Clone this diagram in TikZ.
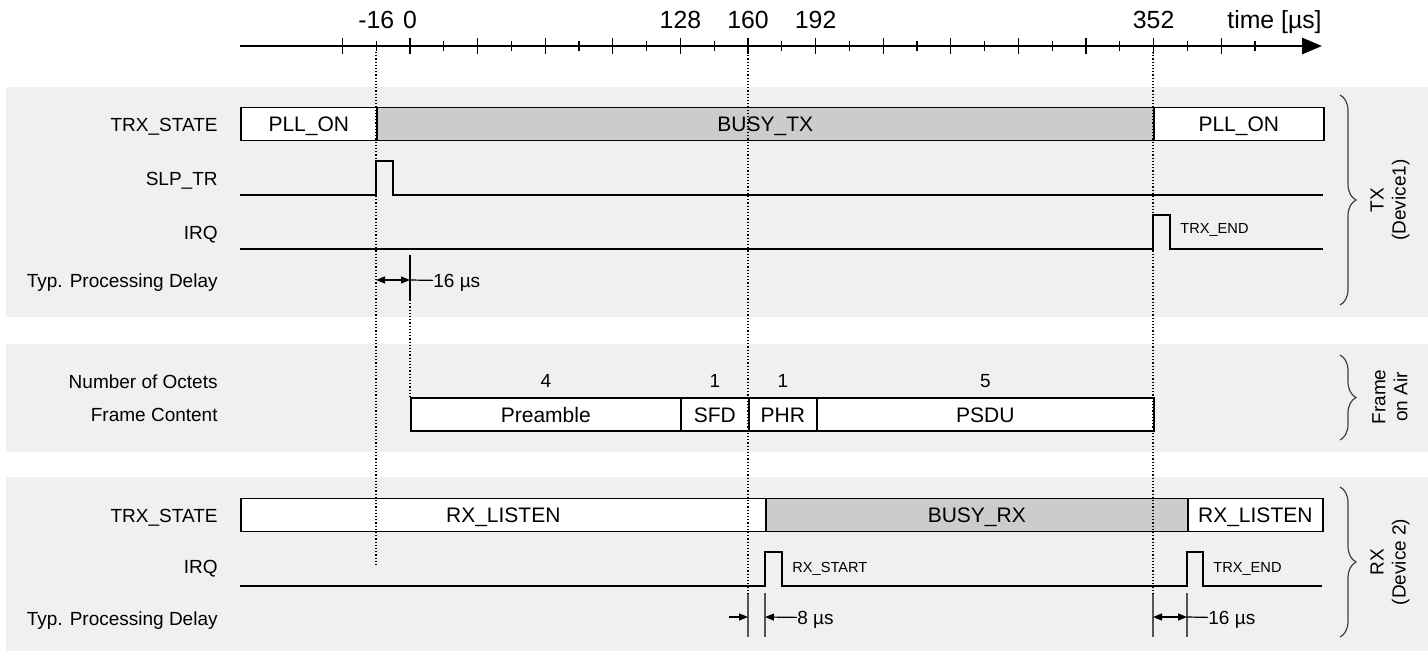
\documentclass[tikz,border=0pt]{standalone}
\usepackage{fontspec}
\setmainfont{Liberation Sans}
\usetikzlibrary{arrows.meta,positioning,calc,decorations.pathreplacing}

\definecolor{panelgray}{HTML}{F0F0F0}
\definecolor{busygray}{HTML}{CCCCCC}
\definecolor{guidegray}{HTML}{555555}

\newcommand{\fsaxis}{\fontsize{12.4}{14}\selectfont}
\newcommand{\fslabel}{\fontsize{9.5}{11}\selectfont}
\newcommand{\fsbox}{\fontsize{10.5}{12}\selectfont}
\newcommand{\fstag}{\fontsize{7.3}{8.5}\selectfont}

\tikzset{
  %% Background panels
  panel/.style={fill=panelgray, draw=none},
  %% Row labels on the left
  rowlabel/.style={anchor=base east, inner sep=0pt, font=\fslabel},
  %% State / frame boxes
  statebox/.style={
    rectangle, draw=black, line width=0.8pt, fill=white,
    anchor=west, minimum height=16.5pt, inner sep=0pt,
    text height=7.5pt, text depth=0pt, font=\fsbox},
  busybox/.style={statebox, fill=busygray},
  octetlabel/.style={anchor=base, inner sep=0pt, font=\fslabel},
  %% Signals
  signal/.style={line width=1pt, black},
  pulsetag/.style={anchor=base west, inner sep=0pt, font=\fstag},
  %% Time axis
  timeaxis/.style={line width=1.4pt, -{Triangle[length=10pt,width=8pt]}},
  tickmark/.style={line width=0.6pt},
  ticklabel/.style={anchor=base, inner sep=0pt, font=\fsaxis},
  %% Markers and delays
  tmarker/.style={densely dotted, line width=0.6pt},
  guide/.style={line width=0.6pt, guidegray},
  leader/.style={line width=0.6pt, black},
  dimarrow/.style={line width=0.6pt,
    {Triangle[length=4.5pt,width=3.5pt]}-{Triangle[length=4.5pt,width=3.5pt]}},
  dimin/.style={line width=0.6pt, -{Triangle[length=4.5pt,width=3.5pt]}},
  delaytext/.style={anchor=base west, inner sep=0pt, text depth=0pt, font=\fslabel},
  %% Side braces
  sidebrace/.style={decorate, decoration={brace, amplitude=8pt},
    line width=0.6pt, black!75},
  sidetext/.style={rotate=90, align=center, font=\fslabel},
}

\begin{document}
\begin{tikzpicture}[x=0.5pt, y=-0.5pt]
  \useasboundingbox (0,0) rectangle (1428,653);

  %% Panels
  \fill[panel] (6,87) rectangle (1428,317);
  \fill[panel] (6,344) rectangle (1428,452);
  \fill[panel] (6,477) rectangle (1428,651);

  %% Time axis
  \draw[timeaxis] (240,46) -- (1322,46);
  \foreach \t in {-32,0,...,384}
    \draw[tickmark] ({410+2.1125*\t},38) -- ++(0,16);
  \foreach \t in {-16,16,...,400}
    \draw[tickmark] ({410+2.1125*\t},41) -- ++(0,10);
  \foreach \t in {-16,0,128,160,192,352}
    \node[ticklabel] at ({410+2.1125*\t},28) {\t};
  \node[ticklabel, anchor=base east] (unit) at (1322,28) {time [µs]};

  %% TX (Device1)
  \node[rowlabel] (tx-state-lbl) at (218,131) {TRX\_STATE};
  \node[rowlabel] (tx-slp-lbl) at (218,185) {SLP\_TR};
  \node[rowlabel] (tx-irq-lbl) at (218,239) {IRQ};
  \node[rowlabel] (tx-delay-lbl) at (218,287) {Typ. Processing Delay};

  \node[statebox, minimum width=68pt] (tx-pll-a) at (240,124) {PLL\_ON};
  \node[busybox, minimum width=388.5pt] (tx-busy) at (376,124) {BUSY\_TX};
  \node[statebox, minimum width=85pt] (tx-pll-b) at (1153,124) {PLL\_ON};

  \draw[signal] (240,195) -- (376,195) -- (376,161) -- (393,161)
    -- (393,195) -- (1323,195);
  \draw[signal] (240,249) -- (1153,249) -- (1153,215) -- (1170,215)
    -- (1170,249) -- (1323,249);
  \node[pulsetag] (tx-end-tag) at (1180,233) {TRX\_END};

  \coordinate (tx-d0) at (376,280);
  \coordinate (tx-d1) at (410,280);
  \draw[leader] (410,255) -- (410,300);
  \draw[tmarker] (410,300) -- (410,398);
  \draw[dimarrow] (tx-d0) -- (tx-d1);
  \node[delaytext] (tx-delay) at (433,287) {16 µs};
  \draw[leader] (tx-d1) -- (tx-delay.west);

  %% Frame on Air
  \node[rowlabel] (fr-oct-lbl) at (218,388) {Number of Octets};
  \node[rowlabel] (fr-cont-lbl) at (218,421) {Frame Content};

  \node[statebox, minimum width=135pt] (fr-pre) at (410,414.5) {Preamble};
  \node[statebox, minimum width=34pt] (fr-sfd) at (680,414.5) {SFD};
  \node[statebox, minimum width=34pt] (fr-phr) at (748,414.5) {PHR};
  \node[statebox, minimum width=168.5pt] (fr-psdu) at (816,414.5) {PSDU};
  \foreach \fld/\n in {fr-pre/4, fr-sfd/1, fr-phr/1, fr-psdu/5}
    \node[octetlabel] (\fld-oct) at ($(\fld.north)+(0,-10)$) {\n};

  %% RX (Device 2)
  \node[rowlabel] (rx-state-lbl) at (218,522.7) {TRX\_STATE};
  \node[rowlabel] (rx-irq-lbl) at (218,573) {IRQ};
  \node[rowlabel] (rx-delay-lbl) at (218,625) {Typ. Processing Delay};

  \node[statebox, minimum width=262.5pt] (rx-listen-a) at (240,515) {RX\_LISTEN};
  \node[busybox, minimum width=211pt] (rx-busy) at (765,515) {BUSY\_RX};
  \node[statebox, minimum width=67.5pt] (rx-listen-b) at (1187,515) {RX\_LISTEN};

  \draw[signal] (240,586) -- (765,586) -- (765,552) -- (782,552)
    -- (782,586) -- (1187,586) -- (1187,552) -- (1203,552)
    -- (1203,586) -- (1322,586);
  \node[pulsetag] (rx-start-tag) at (792,572) {RX\_START};
  \node[pulsetag] (rx-end-tag) at (1213,572) {TRX\_END};

  \foreach \gx in {748,765,1153,1187}
    \draw[guide] (\gx,593) -- (\gx,637);
  \coordinate (rx-a0) at (729,617);
  \coordinate (rx-a1) at (748,617);
  \coordinate (rx-a2) at (765,617);
  \coordinate (rx-b0) at (1153,617);
  \coordinate (rx-b1) at (1187,617);
  \draw[dimin] (rx-a0) -- (rx-a1);
  \node[delaytext] (rx-delay-a) at (797,624) {8 µs};
  \draw[dimin] (rx-delay-a.west) -- (rx-a2);
  \draw[dimarrow] (rx-b0) -- (rx-b1);
  \node[delaytext] (rx-delay-b) at (1208,624) {16 µs};
  \draw[leader] (rx-b1) -- (rx-delay-b.west);

  %% Time markers
  \draw[tmarker] (376,52) -- (376,565);
  \draw[tmarker] (748,52) -- (748,593);
  \draw[tmarker] (1153,52) -- (1153,593);

  %% Side braces
  \draw[sidebrace] (1340,95) -- (1340,305);
  \node[sidetext] (tx-side) at (1390,200) {TX\\(Device1)};
  \draw[sidebrace] (1340,355) -- (1340,440);
  \node[sidetext] (fr-side) at (1390,397) {Frame\\on Air};
  \draw[sidebrace] (1340,487) -- (1340,637);
  \node[sidetext] (rx-side) at (1390,562) {RX\\(Device 2)};
\end{tikzpicture}
\end{document}
